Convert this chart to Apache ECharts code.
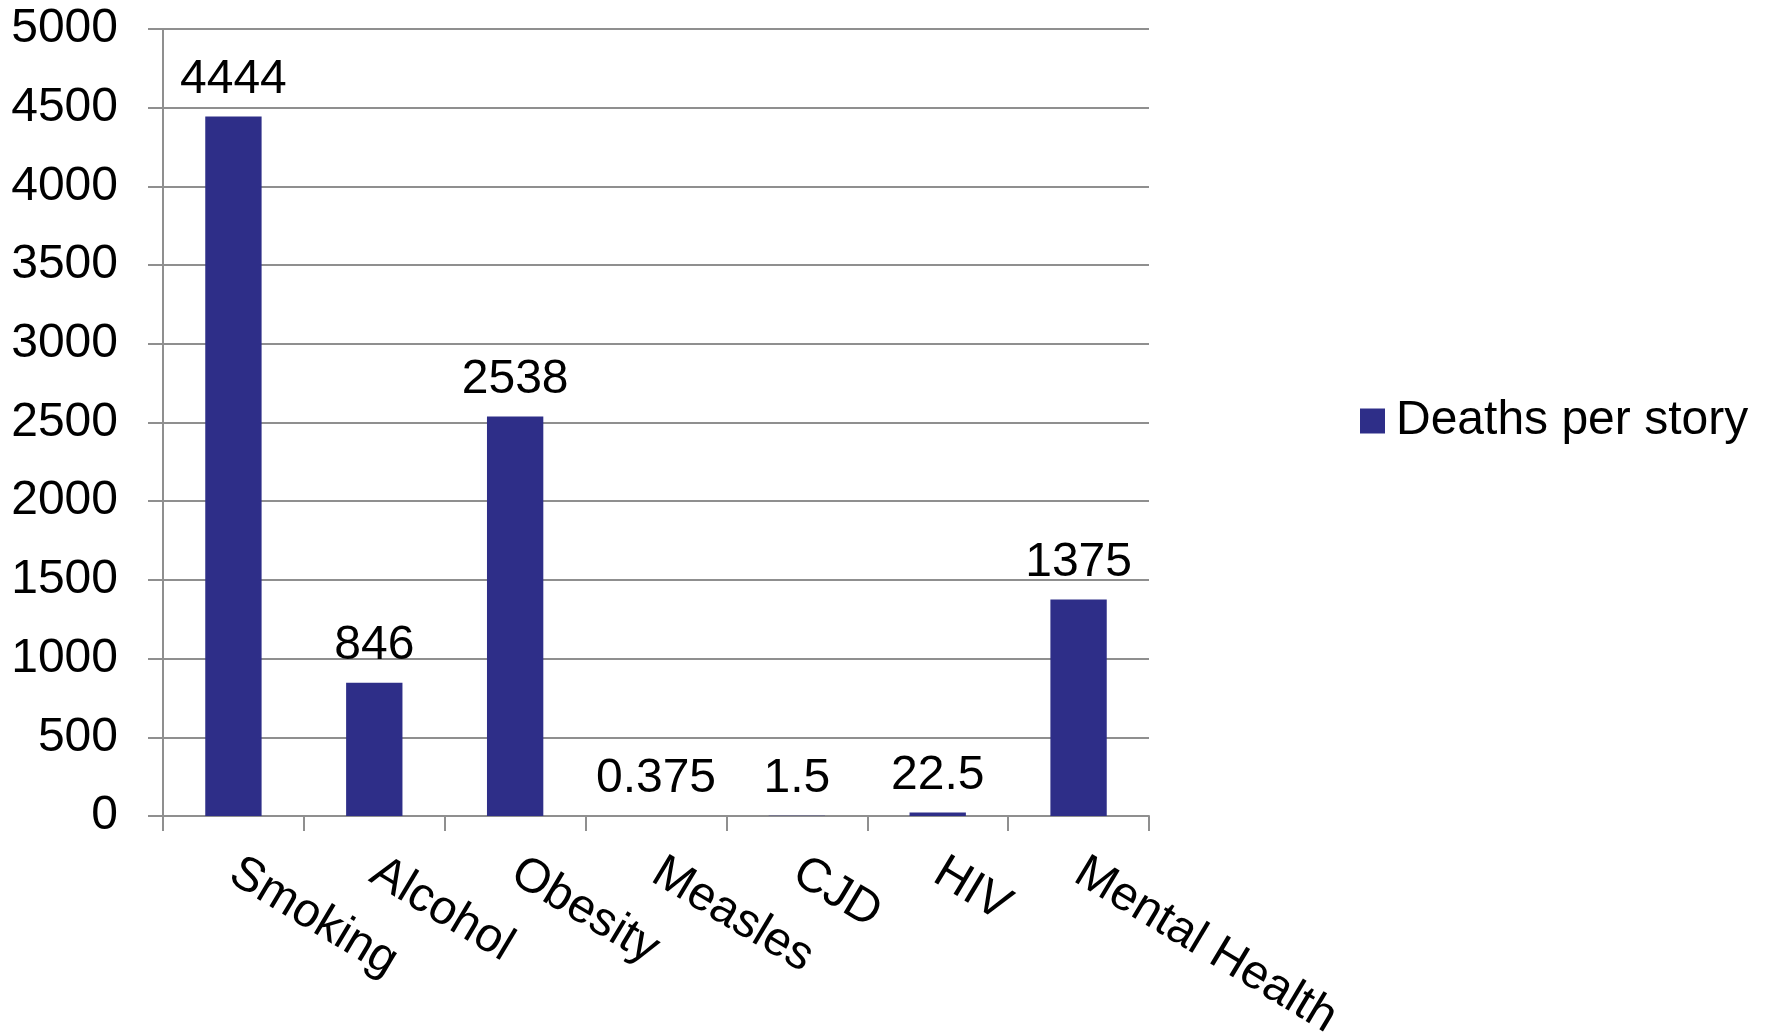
<!DOCTYPE html>
<html>
<head>
<meta charset="utf-8">
<script src="https://cdn.jsdelivr.net/npm/echarts@6/dist/echarts.min.js"></script>
<style>
html,body{margin:0;padding:0;background:#fff;}
#chart{width:1766px;height:1036px;}
</style>
</head>
<body>
<div id="chart"></div>
<script>
const categories = ['Smoking', 'Alcohol', 'Obesity', 'Measles', 'CJD', 'HIV', 'Mental Health'];
const deathsPerStory = [4444, 846, 2538, 0.375, 1.5, 22.5, 1375];
const seriesName = 'Deaths per story';
const yTicks = { min: 0, max: 5000, interval: 500 };

const FONT = '"Liberation Sans", Arial, sans-serif';
const GREY = '#8f8f8f';
const BAR = '#2E2E88';
const FS = 48;

const chart = echarts.init(document.getElementById('chart'), null, { renderer: 'canvas' });
chart.setOption({
  animation: false,
  backgroundColor: '#ffffff',
  textStyle: { fontFamily: FONT },
  legend: {
    orient: 'vertical',
    left: 1360,
    top: 397,
    padding: 0,
    itemWidth: 25,
    itemHeight: 25,
    itemGap: 10,
    icon: 'rect',
    textStyle: { fontFamily: FONT, fontSize: FS, color: '#000', padding: [0, 0, 0, 6] },
    data: [seriesName]
  },
  grid: { left: 163, right: 617, top: 29, bottom: 220, containLabel: false, outerBoundsMode: 'none' },
  xAxis: {
    type: 'category',
    data: categories,
    axisLine: { lineStyle: { color: GREY, width: 2 } },
    axisTick: { show: true, length: 15, lineStyle: { color: GREY, width: 2 } },
    axisLabel: {
      rotate: -31,
      margin: 53,
      interval: 0,
      fontFamily: FONT,
      fontSize: FS,
      color: '#000'
    }
  },
  yAxis: {
    type: 'value',
    min: yTicks.min,
    max: yTicks.max,
    interval: yTicks.interval,
    axisLine: { show: true, lineStyle: { color: GREY, width: 2 } },
    axisTick: { show: true, length: 15, lineStyle: { color: GREY, width: 2 } },
    splitLine: { show: true, lineStyle: { color: GREY, width: 2 } },
    axisLabel: {
      margin: 45,
      fontFamily: FONT,
      fontSize: FS,
      color: '#000',
      formatter: function (v) { return String(v); }
    }
  },
  series: [{
    name: seriesName,
    type: 'bar',
    data: deathsPerStory,
    barWidth: '40%',
    itemStyle: { color: BAR },
    label: {
      show: true,
      position: 'top',
      distance: 13,
      fontFamily: FONT,
      fontSize: FS,
      color: '#000'
    }
  }]
});
</script>
</body>
</html>
